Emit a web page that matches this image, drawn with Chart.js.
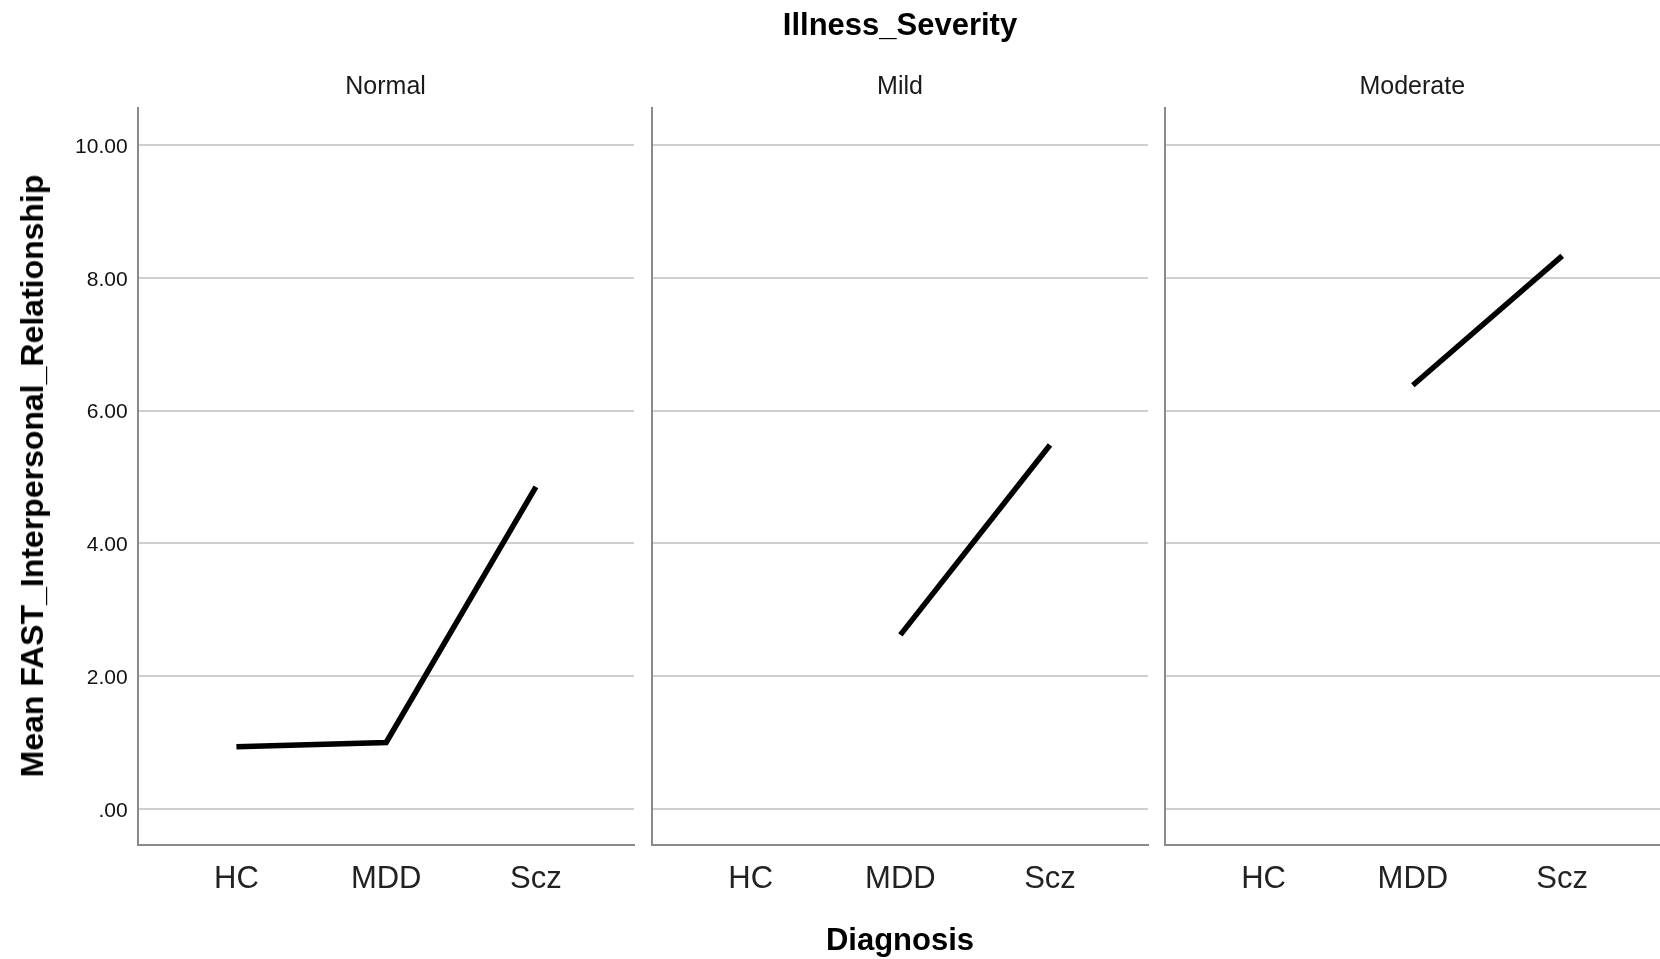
<!DOCTYPE html>
<html>
<head>
<meta charset="utf-8">
<script src="https://cdn.jsdelivr.net/npm/chart.js@4/dist/chart.umd.min.js"></script>
<style>
  html, body { margin:0; padding:0; background:#fff; width:1660px; height:959px; overflow:hidden; }
  .box { position:absolute; top:0; }
  .txt { position:absolute; font-family:"Liberation Sans", Arial, sans-serif; color:#000; white-space:nowrap;
         transform:translate(-50%,-50%); line-height:1; }
</style>
</head>
<body>
<script>
// ---- data ----
const facetTitle = 'Illness_Severity';
const facets = ['Normal', 'Mild', 'Moderate'];
const categories = ['HC', 'MDD', 'Scz'];
const normalMeans   = [0.935, 1.00, 4.85];
const mildMeans     = [null, 2.62, 5.48];
const moderateMeans = [null, 6.38, 8.33];
const yTickValues = [0, 2, 4, 6, 8, 10];
const yTickLabels = ['.00', '2.00', '4.00', '6.00', '8.00', '10.00'];
const xTitle = 'Diagnosis';
const yTitle = 'Mean FAST_Interpersonal_Relationship';

// ---- layout / style ----
const W = 1660, H = 959;
const PLOT_TOP = 108, PLOT_BOTTOM = 845;
const panels = [
  { areaL: 137.6, areaR: 634 },
  { areaL: 652,   areaR: 1148 },
  { areaL: 1164.6, areaR: 1660 }
];
const FONT = '"Liberation Sans", Arial, sans-serif';
const GRID = '#cfcfcf';
const AXIS = '#8a8a8a';
const seriesByFacet = [normalMeans, mildMeans, moderateMeans];

function addText(str, x, y, size, bold, color, rotate) {
  const d = document.createElement('div');
  d.className = 'txt';
  d.textContent = str;
  d.style.left = x + 'px';
  d.style.top = y + 'px';
  d.style.fontSize = size + 'px';
  d.style.fontWeight = bold ? 'bold' : 'normal';
  d.style.color = color || '#000';
  if (rotate) d.style.transform = 'translate(-50%,-50%) rotate(' + rotate + 'deg)';
  document.body.appendChild(d);
}

function makePanel(i) {
  const p = panels[i];
  const showY = i === 0;
  const boxL = showY ? 0 : p.areaL - 6;
  const boxR = Math.min(W, p.areaR + 6);
  const w = boxR - boxL;
  const div = document.createElement('div');
  div.className = 'box';
  div.style.left = boxL + 'px';
  div.style.width = w + 'px';
  div.style.height = H + 'px';
  const cv = document.createElement('canvas');
  cv.width = w; cv.height = H;
  cv.style.width = w + 'px'; cv.style.height = H + 'px';
  div.appendChild(cv);
  document.body.appendChild(div);

  const means = seriesByFacet[i];
  new Chart(cv, {
    type: 'line',
    data: {
      datasets: [{
        data: means.map((v, k) => ({ x: k, y: v })),
        borderColor: '#000',
        borderWidth: 5.5,
        pointRadius: 0,
        fill: false,
        spanGaps: false,
        borderJoinStyle: 'miter',
        borderCapStyle: 'butt'
      }]
    },
    options: {
      responsive: false,
      animation: false,
      events: [],
      layout: { padding: { top: PLOT_TOP, left: 0, right: boxR - p.areaR, bottom: 0 } },
      plugins: { legend: { display: false }, tooltip: { enabled: false } },
      scales: {
        x: {
          type: 'linear',
          min: -0.66, max: 2.655,
          afterBuildTicks: s => { s.ticks = categories.map((c, k) => ({ value: k })); },
          afterFit: s => { s.height = H - PLOT_BOTTOM; },
          grid: { display: false, drawTicks: false },
          border: { display: true, color: AXIS, width: 2 },
          ticks: {
            autoSkip: false, maxRotation: 0, minRotation: 0, padding: 16,
            color: '#222', font: { family: FONT, size: 31 },
            callback: v => categories[v]
          }
        },
        y: {
          type: 'linear',
          min: -0.545, max: 10.557,
          afterBuildTicks: s => { s.ticks = yTickValues.map(v => ({ value: v })); },
          afterFit: s => { s.width = p.areaL - boxL; },
          grid: { color: GRID, lineWidth: 2, drawTicks: false },
          border: { display: true, color: AXIS, width: 2 },
          ticks: {
            display: showY, padding: 10, labelOffset: 2, color: '#111',
            font: { family: FONT, size: 21 },
            callback: v => yTickLabels[yTickValues.indexOf(v)]
          }
        }
      }
    }
  });

  addText(facets[i], (p.areaL + Math.min(p.areaR, p.areaL + 496)) / 2, 85, 25, false, '#1a1a1a');
}

for (let i = 0; i < facets.length; i++) makePanel(i);
addText(facetTitle, 900, 24, 31, true, '#000');
addText(xTitle, 900, 939, 31, true, '#000');
addText(yTitle, 32, 476, 32, true, '#000', -90);
</script>
</body>
</html>
